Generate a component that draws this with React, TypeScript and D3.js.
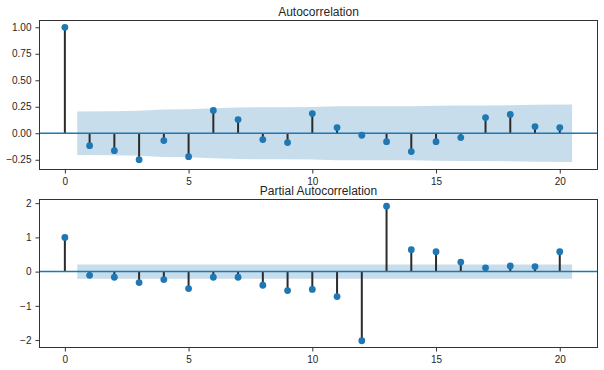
import React, { useEffect, useRef } from "react";
import * as d3 from "d3";

const lags = d3.range(0, 21);

// autocorrelation values, lag 0..20
const acfValues = [
  1.0, -0.117, -0.164, -0.249, -0.069, -0.221, 0.215, 0.129, -0.06, -0.088, 0.186,
  0.054, -0.019, -0.079, -0.173, -0.079, -0.041, 0.148, 0.177, 0.063, 0.054,
];

// half width of the acf confidence band, lag 1..20
const acfBand = [
  0.205, 0.208, 0.213, 0.225, 0.226, 0.235, 0.243, 0.246, 0.246, 0.248,
  0.254, 0.254, 0.254, 0.255, 0.26, 0.261, 0.261, 0.265, 0.27, 0.272,
];

// partial autocorrelation values, lag 0..20
const pacfValues = [
  1.0, -0.107, -0.165, -0.32, -0.233, -0.495, -0.165, -0.165, -0.398, -0.553, -0.52,
  -0.73, -2.02, 1.91, 0.64, 0.58, 0.28, 0.11, 0.165, 0.146, 0.58,
];

// pacf band is flat
const pacfBand = Array(20).fill(0.205);

const xTicks = [0, 5, 10, 15, 20];
const acfTicks = [-0.25, 0, 0.25, 0.5, 0.75, 1.0];
const pacfTicks = [-2, -1, 0, 1, 2];

const C0 = "#1f77b4";
const fmtMinus = (s: string) => s.replace("-", "\u2212");

function drawPanel(
  svg: d3.Selection<SVGSVGElement, unknown, null, undefined>,
  opts: {
    title: string;
    top: number;
    bottom: number;
    values: number[];
    band: number[];
    yDomain: [number, number];
    yTicks: number[];
    yFmt: (d: number) => string;
  }
) {
  const left = 39.5;
  const right = 597.5;
  const x = d3.scaleLinear().domain([-1.025, 21.525]).range([left, right]);
  const y = d3.scaleLinear().domain(opts.yDomain).range([opts.bottom, opts.top]);

  const g = svg.append("g");

  // confidence band (first and last lag stretched by half a step)
  const bandX = opts.band.map((_, i) => {
    const lag = i + 1;
    if (i === 0) return lag - 0.5;
    if (i === opts.band.length - 1) return lag + 0.5;
    return lag;
  });
  const area = d3
    .area<number>()
    .x((d, i) => x(bandX[i]))
    .y0((d) => y(-d))
    .y1((d) => y(d));
  g.append("path")
    .attr("d", area(opts.band))
    .attr("fill", C0)
    .attr("fill-opacity", 0.25);

  // stems
  g.selectAll("line.stem")
    .data(opts.values)
    .enter()
    .append("line")
    .attr("class", "stem")
    .attr("x1", (d, i) => x(lags[i]))
    .attr("x2", (d, i) => x(lags[i]))
    .attr("y1", y(0))
    .attr("y2", (d) => y(d))
    .attr("stroke", "#2b2b2b")
    .attr("stroke-width", 2);

  // zero line
  g.append("line")
    .attr("x1", left)
    .attr("x2", right)
    .attr("y1", y(0))
    .attr("y2", y(0))
    .attr("stroke", C0)
    .attr("stroke-width", 1.5);

  // markers
  g.selectAll("circle")
    .data(opts.values)
    .enter()
    .append("circle")
    .attr("cx", (d, i) => x(lags[i]))
    .attr("cy", (d) => y(d))
    .attr("r", 3.4)
    .attr("fill", C0);

  // frame
  g.append("rect")
    .attr("x", left)
    .attr("y", opts.top)
    .attr("width", right - left)
    .attr("height", opts.bottom - opts.top)
    .attr("fill", "none")
    .attr("stroke", "#333")
    .attr("stroke-width", 1);

  const xAxis = g
    .append("g")
    .attr("transform", `translate(0,${opts.bottom})`)
    .call(d3.axisBottom(x).tickValues(xTicks).tickSize(4).tickPadding(4).tickFormat((d) => String(d)));
  const yAxis = g
    .append("g")
    .attr("transform", `translate(${left},0)`)
    .call(d3.axisLeft(y).tickValues(opts.yTicks).tickSize(4).tickPadding(4).tickFormat((d) => opts.yFmt(+d)));

  [xAxis, yAxis].forEach((a) => {
    a.select(".domain").remove();
    a.selectAll("line").attr("stroke", "#333");
    a.selectAll("text")
      .attr("fill", "#262626")
      .style("font-family", "'Liberation Sans', Arial, sans-serif")
      .style("font-size", "10px");
  });

  g.append("text")
    .attr("x", (left + right) / 2)
    .attr("y", opts.top - 5)
    .attr("text-anchor", "middle")
    .attr("fill", "#262626")
    .style("font-family", "'Liberation Sans', Arial, sans-serif")
    .style("font-size", "12px")
    .text(opts.title);
}

export default function App() {
  const ref = useRef<SVGSVGElement>(null);

  useEffect(() => {
    const svg = d3.select(ref.current!);
    svg.selectAll("*").remove();

    drawPanel(svg, {
      title: "Autocorrelation",
      top: 20.5,
      bottom: 169.5,
      values: acfValues,
      band: acfBand,
      yDomain: [-0.342, 1.064],
      yTicks: acfTicks,
      yFmt: (d) => fmtMinus(d3.format(".2f")(d)),
    });

    drawPanel(svg, {
      title: "Partial Autocorrelation",
      top: 199.5,
      bottom: 347.5,
      values: pacfValues,
      band: pacfBand,
      yDomain: [-2.217, 2.107],
      yTicks: pacfTicks,
      yFmt: (d) => fmtMinus(String(d)),
    });
  }, []);

  return (
    <svg
      ref={ref}
      width={604}
      height={370}
      style={{ position: "absolute", left: 0, top: 0, background: "#fff" }}
    />
  );
}
